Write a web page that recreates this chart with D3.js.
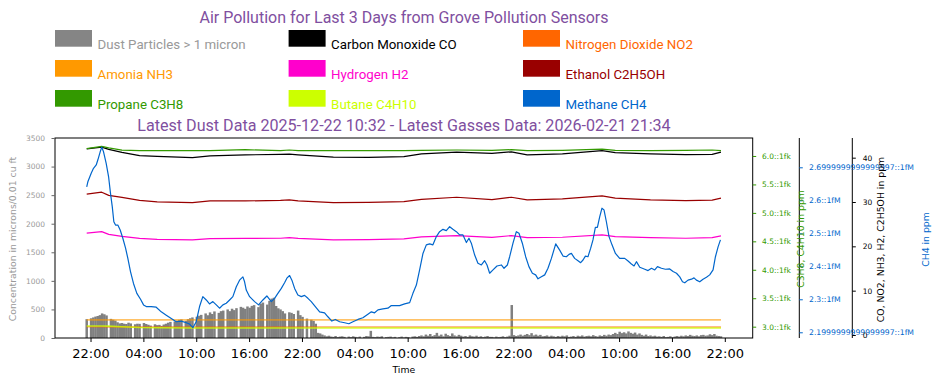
<!DOCTYPE html>
<html><head><meta charset="utf-8">
<script src="https://cdn.jsdelivr.net/npm/d3@7"></script>
<style>body{margin:0;background:#fff}svg{display:block}</style>
</head><body>
<svg id="chart" width="942" height="385"></svg>
<script>
// ---------- DATA ----------
const titleText = "Air Pollution for Last 3 Days from Grove Pollution Sensors";
const subtitleText = "Latest Dust Data 2025-12-22 10:32 - Latest Gasses Data: 2026-02-21 21:34";
const startTime = "2026-02-18T21:34:00Z";
const endTime = "2026-02-21T21:34:00Z";
const dustStepMinutes = 15;

const legendNames = ["Dust Particles > 1 micron","Carbon Monoxide CO","Nitrogen Dioxide NO2",
  "Amonia NH3","Hydrogen H2","Ethanol C2H5OH","Propane C3H8","Butane C4H10","Methane CH4"];
const legendColors = ["#858585","#000000","#ff6600","#ff9900","#ff00cc","#990000","#339900","#ccff00","#0066cc"];
const legendTextColors = ["#999999","#000000","#ff6600","#ff9900","#ff00cc","#990000","#339900","#ccff00","#0066cc"];

// dust, one value per 15 minutes from startTime (0 = no reading)
const dustValues = [
 330,0,345,360, 375,385,400,430, 415,395,0,335, 320,305,275,255, 262,250,245,268,
 255,0,240,250, 248,0,262,245, 232,218,0,240, 225,230,212,236, 250,268,282,0,
 290,305,318,325, 0,300,330,345, 360,0,372,390, 405,0,430,398, 448,420,465,0,
 440,470,480,0, 500,470,512,488, 522,0,545,530, 510,552,530,562, 575,0,540,600,
 620,0,585,650, 690,705,560,520, 500,470,430,0, 450,440,420,0, 480,400,370,0,
 340,0,320,300, 250,90,80,60,
 45,30,40,25, 20,35,15,25, 30,20,0,25, 15,30,20,10, 25,0,20,35,
 30,125,20,15, 25,20,30,0, 15,20,25,10, 20,0,15,25, 10,20,15,0,
 25,30,20,35, 45,30,60,40, 70,35,50,90, 40,60,30,75, 50,35,80,45,
 30,55,40,25, 35,20,45,30, 25,40,20,30, 15,25,35,20, 20,10,25,15,
 20,30,15,25, 40,577,50,35, 45,60,40,55, 70,50,85,45, 60,40,55,30,
 35,45,25,40, 30,20,35,25, 40,30,45,20, 25,35,20,40, 30,45,25,35,
 40,30,50,35, 25,45,35,55, 40,60,50,70, 90,70,110,85, 100,80,115,90,
 75,95,60,80, 55,40,60,35, 45,30,40,25, 30,20,35,15, 20,30,15,25,
 35,25,40,30, 45,35,55,40, 35,45,30,50, 55,40,45,65, 50,70,40,35,
 30
];

// hours after startTime for the slowly varying gases
const gasHours = [0,1.7,2.5,4,6,8,12,14,18,22,23,24,28,32,36,38,42,46,48.2,50,54,58.5,60,64,68,71,72];
const coValues     = [41.99,42.37,41.87,41.2,40.47,40.29,40.02,40.41,40.63,40.75,40.79,40.63,40.11,40.07,40.25,40.86,41.24,40.97,41.32,40.63,40.86,41.60,41.15,40.86,40.70,40.75,41.24];
const no2Values    = [1.85,1.85,1.84,1.83,1.82,1.82,1.82,1.82,1.82,1.82,1.82,1.82,1.82,1.82,1.82,1.82,1.82,1.82,1.82,1.82,1.82,1.82,1.82,1.82,1.82,1.82,1.82];
const nh3Values    = [3.42,3.42,3.42,3.42,3.42,3.42,3.42,3.42,3.42,3.42,3.42,3.42,3.42,3.42,3.42,3.42,3.42,3.42,3.42,3.42,3.42,3.42,3.42,3.42,3.42,3.42,3.42];
const h2Values     = [22.96,23.32,22.69,22.23,21.78,21.56,21.44,21.74,21.78,21.83,21.96,21.78,21.44,21.51,21.67,22.12,22.42,22.01,22.42,21.96,22.05,22.57,22.19,21.96,21.83,21.96,22.35];
const ethanolValues= [31.76,32.21,31.49,31.04,30.36,30.02,29.86,30.25,30.25,30.36,30.47,30.25,29.86,29.91,30.09,30.59,31.08,30.54,31.08,30.47,30.70,31.38,30.86,30.47,30.32,30.41,30.86];
const propaneValues= [6.128,6.169,6.141,6.102,6.093,6.093,6.093,6.093,6.111,6.093,6.105,6.093,6.093,6.093,6.093,6.099,6.105,6.099,6.111,6.093,6.099,6.120,6.099,6.093,6.099,6.105,6.093];
const butaneValues = [3.012,3.012,3.010,3.000,2.985,2.980,2.978,2.978,2.978,2.978,2.978,2.978,2.978,2.978,2.978,2.978,2.978,2.978,2.978,2.978,2.978,2.978,2.978,2.978,2.978,2.978,2.978];

const ch4Hours = [0,0.13,0.51,0.77,1.08,1.26,1.53,1.71,1.91,2.21,2.48,2.70,2.90,3.08,3.27,3.53,3.80,4.10,4.41,4.67,4.97,5.31,5.69,6.11,6.45,6.76,7.32,7.89,8.46,9.03,9.60,10.16,10.73,11.30,11.67,12.05,12.43,12.81,13.18,13.57,13.94,14.32,14.71,15.08,15.46,15.84,16.22,16.59,16.98,17.35,17.73,17.92,18.11,18.49,19.06,19.51,20.00,20.45,20.95,21.33,21.70,22.09,22.46,22.72,23.03,23.29,23.60,23.97,24.36,24.73,25.11,25.49,25.95,26.44,27.00,27.38,27.83,28.22,28.71,29.28,29.76,30.22,30.79,31.35,31.92,32.31,32.68,33.06,33.62,34.19,34.58,35.15,35.52,36.09,36.66,37.03,37.42,37.79,38.17,38.55,38.93,39.30,39.69,40.06,40.44,40.82,41.20,41.57,41.96,42.33,42.71,43.10,43.39,43.66,44.04,44.41,44.80,45.17,45.44,45.74,46.12,46.57,47.07,47.37,47.75,48.01,48.39,48.77,49.07,49.45,49.83,50.20,50.59,50.96,51.23,51.61,51.99,52.36,52.75,53.24,53.69,54.07,54.45,54.75,55.02,55.39,55.77,56.07,56.34,56.61,56.90,57.21,57.47,57.74,57.97,58.23,58.49,58.72,58.99,59.29,59.63,60.02,60.50,61.07,61.45,61.83,62.13,62.40,62.78,63.35,63.72,64.11,64.48,64.79,65.24,65.69,66.18,66.56,66.95,67.32,67.63,67.89,68.26,68.65,68.94,69.21,69.59,69.96,70.35,70.72,71.10,71.37,71.67,71.94];
const ch4Values = [2.641,2.656,2.682,2.697,2.707,2.722,2.747,2.761,2.747,2.712,2.672,2.621,2.581,2.535,2.525,2.525,2.510,2.485,2.455,2.424,2.384,2.348,2.318,2.300,2.283,2.278,2.278,2.276,2.262,2.252,2.242,2.232,2.234,2.229,2.225,2.214,2.232,2.278,2.308,2.298,2.286,2.293,2.283,2.273,2.283,2.288,2.298,2.308,2.338,2.358,2.368,2.353,2.328,2.308,2.293,2.283,2.298,2.310,2.293,2.303,2.318,2.333,2.350,2.364,2.372,2.358,2.333,2.313,2.308,2.312,2.303,2.293,2.278,2.262,2.259,2.247,2.234,2.239,2.232,2.229,2.226,2.232,2.239,2.244,2.255,2.262,2.259,2.268,2.271,2.273,2.281,2.281,2.281,2.286,2.290,2.318,2.343,2.389,2.439,2.465,2.468,2.465,2.490,2.505,2.512,2.508,2.520,2.512,2.505,2.495,2.495,2.472,2.485,2.470,2.434,2.409,2.404,2.417,2.404,2.379,2.389,2.401,2.404,2.394,2.404,2.429,2.470,2.505,2.500,2.470,2.429,2.399,2.379,2.374,2.362,2.368,2.374,2.394,2.424,2.468,2.449,2.431,2.429,2.436,2.439,2.424,2.417,2.411,2.419,2.431,2.429,2.455,2.480,2.518,2.518,2.550,2.576,2.571,2.535,2.490,2.465,2.439,2.424,2.424,2.416,2.407,2.401,2.414,2.397,2.391,2.387,2.394,2.389,2.399,2.394,2.391,2.392,2.384,2.379,2.368,2.353,2.350,2.358,2.361,2.365,2.358,2.353,2.361,2.367,2.374,2.389,2.429,2.459,2.480];

// axis limits and ticks
const dustDomain = [0, 3500];
const dustTicks = [0,500,1000,1500,2000,2500,3000,3500];
const gasDomain = [-0.677, 44.44];
const gasTicks = [0,10,20,30,40];
const propDomain = [2.801, 6.316];
const propTicks = [3.0,3.5,4.0,4.5,5.0,5.5,6.0];
const propTickLabels = ["3.0::1fk","3.5::1fk","4.0::1fk","4.5::1fk","5.0::1fk","5.5::1fk","6.0::1fk"];
const ch4Domain = [2.1827, 2.7888];
const ch4Ticks = [2.2,2.3,2.4,2.5,2.6,2.7];
const ch4TickLabels = ["2.1999999999999997::1fM","2.3::1fM","2.4::1fM","2.5::1fM","2.6::1fM","2.6999999999999997::1fM"];
const xTickStart = "2026-02-18T22:00:00Z";
const xTickCount = 13;
const xTickStepHours = 6;

// ---------- LAYOUT ----------
const L = 55, R = 752.7, T = 138, B = 338;
const ch4AxisX = 799.3, gasAxisX = 852.3;
const purple = "#7f4fa0";
const tickFont = "DejaVu Sans";

const svg = d3.select("#chart");
const t0 = new Date(startTime), t1 = new Date(endTime);
const HOUR = 3600e3;
const pad = (t1 - t0) * 0.05;
const x = d3.scaleUtc().domain([new Date(+t0 - pad), new Date(+t1 + pad)]).range([L, R]);
const yDust = d3.scaleLinear().domain(dustDomain).range([B, T]);
const yGas = d3.scaleLinear().domain(gasDomain).range([B, T]);
const yProp = d3.scaleLinear().domain(propDomain).range([B, T]);
const yCh4 = d3.scaleLinear().domain(ch4Domain).range([B, T]);
const tAt = h => new Date(+t0 + h * HOUR);

// titles
svg.append("text").attr("x", 404).attr("y", 23).attr("text-anchor","middle")
  .attr("font-family","Roboto").attr("font-size",16).attr("fill",purple).text(titleText);
svg.append("text").attr("x", 404).attr("y", 131).attr("text-anchor","middle")
  .attr("font-family","Roboto").attr("font-size",16.1).attr("fill",purple).text(subtitleText);

// legend
const colX = [55, 288.6, 523], rowY = [30, 60, 90];
legendNames.forEach((name, i) => {
  const c = i % 3, r = Math.floor(i / 3);
  svg.append("rect").attr("x", colX[c]).attr("y", rowY[r]).attr("width", 37).attr("height", 16.7)
    .attr("fill", legendColors[i]);
  svg.append("text").attr("x", colX[c] + 42.5).attr("y", rowY[r] + 19.3)
    .attr("font-family","Roboto").attr("font-size",13.3).attr("fill", legendTextColors[i]).text(name);
});

// dust bars
const step = dustStepMinutes * 60e3;
const bw = x(new Date(+t0 + step)) - x(t0);
svg.append("g").selectAll("rect").data(dustValues.map((v, i) => ({t: new Date(+t0 + i * step), v})).filter(d => d.v > 0))
  .join("rect")
  .attr("x", d => x(d.t) - bw / 2 - 0.15).attr("width", bw + 0.3)
  .attr("y", d => yDust(d.v)).attr("height", d => yDust(0) - yDust(d.v))
  .attr("fill", "#808080");

// lines
function drawLine(hours, vals, yScale, color, width, opacity) {
  const pts = hours.map((h, i) => [x(tAt(h)), yScale(vals[i])]);
  svg.append("path").attr("d", d3.line()(pts)).attr("fill","none")
    .attr("stroke", color).attr("stroke-width", width).attr("stroke-opacity", opacity)
    .attr("stroke-linejoin","round");
}
drawLine(gasHours, coValues, yGas, "#000000", 1.2, 1);
drawLine(gasHours, no2Values, yGas, "#ff6600", 1.6, 0.6);
drawLine(gasHours, nh3Values, yGas, "#ff9900", 1.6, 0.6);
drawLine(gasHours, h2Values, yGas, "#ff00cc", 1.2, 1);
drawLine(gasHours, ethanolValues, yGas, "#990000", 1.2, 1);
drawLine(gasHours, propaneValues, yProp, "#339900", 1.2, 1);
drawLine(gasHours, butaneValues, yProp, "#ccff00", 1.6, 0.8);
drawLine(ch4Hours, ch4Values, yCh4, "#0066cc", 1.2, 1);

// spines
const sp = svg.append("g").attr("stroke","#000").attr("stroke-width",1).attr("fill","none");
sp.append("rect").attr("x", L).attr("y", T).attr("width", R - L).attr("height", B - T);
sp.append("line").attr("x1", ch4AxisX).attr("x2", ch4AxisX).attr("y1", T).attr("y2", B);
sp.append("line").attr("x1", gasAxisX).attr("x2", gasAxisX).attr("y1", T).attr("y2", B);

function styleAxis(g, color, size) {
  g.select(".domain").remove();
  g.selectAll(".tick line").attr("stroke", color);
  g.selectAll(".tick text").attr("fill", color).attr("font-family", tickFont).attr("font-size", size);
}
// left axis
const gl = svg.append("g").attr("transform", `translate(${L},0)`)
  .call(d3.axisLeft(yDust).tickValues(dustTicks).tickSize(3.5).tickPadding(6.5).tickFormat(d3.format("d")));
styleAxis(gl, "#999999", 7.5);
gl.selectAll(".tick line").attr("stroke", "#666");
// propane/butane axis
const gp = svg.append("g").attr("transform", `translate(${R},0)`)
  .call(d3.axisRight(yProp).tickValues(propTicks).tickSize(3.5).tickPadding(5.8).tickFormat((d, i) => propTickLabels[i]));
styleAxis(gp, "#339900", 7.5);
// ch4 axis
const gc = svg.append("g").attr("transform", `translate(${ch4AxisX},0)`)
  .call(d3.axisRight(yCh4).tickValues(ch4Ticks).tickSize(3.5).tickPadding(6.2).tickFormat((d, i) => ch4TickLabels[i]));
styleAxis(gc, "#0066cc", 7.7);
// gas axis
const gg = svg.append("g").attr("transform", `translate(${gasAxisX},0)`)
  .call(d3.axisRight(yGas).tickValues(gasTicks).tickSize(3.5).tickPadding(6.9).tickFormat(d3.format("d")));
styleAxis(gg, "#000000", 7.5);
// x axis
const xTicks = d3.range(xTickCount).map(k => new Date(+new Date(xTickStart) + k * xTickStepHours * HOUR));
const gx = svg.append("g").attr("transform", `translate(0,${B})`)
  .call(d3.axisBottom(x).tickValues(xTicks).tickSize(4).tickFormat(d3.utcFormat("%H:%M")));
styleAxis(gx, "#000000", 13);
gx.selectAll(".tick text").attr("y", 20.3).attr("dy", null);

// axis labels
function vlabel(xp, yp, txt, color) {
  svg.append("text").attr("transform", `translate(${xp},${yp}) rotate(-90)`).attr("text-anchor","middle")
    .attr("font-family", tickFont).attr("font-size", 9.3).attr("fill", color).text(txt);
}
vlabel(16, 239, "Concentration in microns/0.01 cu ft", "#999999");
vlabel(804, 239, "C3H8, C4H10 in ppm", "#339900");
vlabel(884, 239.5, "CO, NO2, NH3, H2, C2H5OH in ppm", "#000000");
vlabel(929, 239.5, "CH4 in ppm", "#0066cc");
svg.append("text").attr("x", (L + R) / 2).attr("y", 373).attr("text-anchor","middle")
  .attr("font-family", tickFont).attr("font-size", 9.3).attr("fill","#000").text("Time");
</script>
</body></html>
